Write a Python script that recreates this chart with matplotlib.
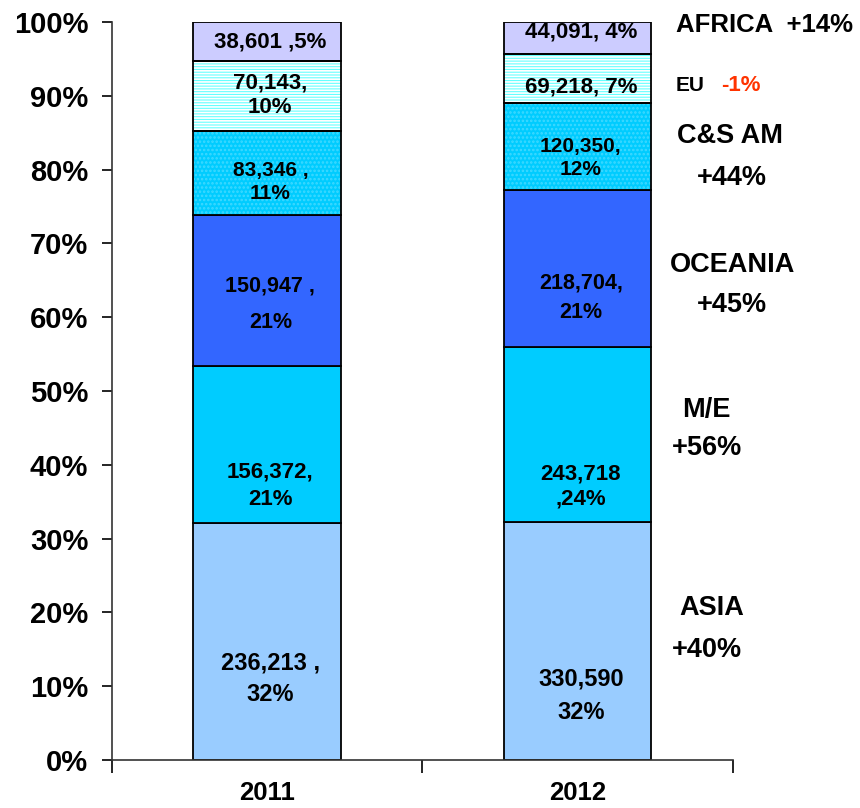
import numpy as np
import matplotlib
matplotlib.use("Agg")
import matplotlib.pyplot as plt

years = ["2011", "2012"]
regions = ["ASIA", "M/E", "OCEANIA", "C&S AM", "EU", "AFRICA"]
vol_2011 = [236213, 156372, 150947, 83346, 70143, 38601]
vol_2012 = [330590, 243718, 218704, 120350, 69218, 44091]
growth = ["+40%", "+56%", "+45%", "+44%", "-1%", "+14%"]

labels_2011 = ["236,213 ,\n32%", "156,372,\n21%", "150,947 ,\n21%",
               "83,346 ,\n11%", "70,143,\n10%", "38,601 ,5%"]
labels_2012 = ["330,590\n32%", "243,718\n,24%", "218,704,\n21%",
               "120,350,\n12%", "69,218, 7%", "44,091, 4%"]

colors = ["#99CCFF", "#00CCFF", "#3366FF", "#00CCFF", "#66FFFF", "#CCCCFF"]
hatches = [None, None, None, "....", "------", None]
hatch_cols = [None, None, None, "#40D9FF", "#FFFFFF", None]

# label y centre (in % of bar) per segment
lab_y = [[11.0, 37.1, 61.8, 78.3, 90.1, 97.3],
         [8.7, 37.0, 62.6, 81.6, 91.2, 98.6]]
lspace = [[1.5, 1.4, 1.95, 1.23, 1.25, 1.0],
          [1.6, 1.25, 1.55, 1.28, 1.0, 1.0]]
sizes = [[17, 16, 15.5, 15, 16, 16],
         [17, 16, 15.5, 15, 16, 16]]

FONT = ["Liberation Sans", "DejaVu Sans"]
plt.rcParams["hatch.linewidth"] = 1.2

fig = plt.figure(figsize=(8.6, 8.08), dpi=100)
ax = fig.add_axes([0.1302, 0.0594, 0.7221, 0.9134])

data = np.array([vol_2011, vol_2012], dtype=float)
pct = data / data.sum(axis=1, keepdims=True) * 100
x = np.arange(len(years))
width = 0.475

bottom = np.zeros(len(years))
for i, reg in enumerate(regions):
    h = pct[:, i]
    if hatches[i]:
        ax.bar(x, h, width, bottom=bottom, color=colors[i], edgecolor=hatch_cols[i],
               hatch=hatches[i], linewidth=0, zorder=2)
        ax.bar(x, h, width, bottom=bottom, fill=False, edgecolor="black",
               linewidth=1.3, zorder=3)
    else:
        ax.bar(x, h, width, bottom=bottom, color=colors[i], edgecolor="black",
               linewidth=1.3, zorder=2)
    bottom += h

for j, labs in enumerate([labels_2011, labels_2012]):
    for i, t in enumerate(labs):
        ax.text(x[j] + 0.01, lab_y[j][i], t, ha="center", va="center",
                fontsize=sizes[j][i], fontweight="bold", family=FONT,
                linespacing=lspace[j][i], zorder=4)

# growth labels on the right
rx = 1.316
fs = 19.5
kw = dict(fontweight="bold", family=FONT, va="center", ha="left", clip_on=False)
ax.text(rx, (760 - 25) / 7.38, "AFRICA  " + growth[5], fontsize=18.5, **kw)
ax.text(rx, (760 - 86) / 7.38, "EU", fontsize=15, **kw)
ax.text(1.462, (760 - 86) / 7.38, growth[4], fontsize=16, color="#FF3300", **kw)
ax.text(1.32, (760 - 136) / 7.38, "C&S AM", fontsize=fs, **kw)
ax.text(1.385, (760 - 178) / 7.38, growth[3], fontsize=fs, **kw)
ax.text(1.297, (760 - 265) / 7.38, "OCEANIA", fontsize=fs, **kw)
ax.text(1.385, (760 - 305) / 7.38, growth[2], fontsize=fs, **kw)
ax.text(1.336, (760 - 410) / 7.38, "M/E", fontsize=fs, **kw)
ax.text(1.304, (760 - 448) / 7.38, growth[1], fontsize=fs, **kw)
ax.text(1.326, (760 - 608) / 7.38, "ASIA", fontsize=fs, **kw)
ax.text(1.304, (760 - 650) / 7.38, growth[0], fontsize=fs, **kw)

ax.set_xlim(-0.5, 1.5)
ax.set_ylim(0, 100)
ax.set_yticks(np.arange(0, 101, 10))
ax.set_yticklabels([f"{v}%" for v in range(0, 101, 10)], fontsize=21,
                   fontweight="bold", family=FONT)
ax.set_xticks([-0.5, 0.5, 1.5])
ax.set_xticklabels([])
ax.set_xticks(x, minor=True)
ax.set_xticklabels(years, minor=True, fontsize=18.5, fontweight="bold", family=FONT)
ax.tick_params(axis="x", which="major", direction="out", length=9, width=1.2)
ax.tick_params(axis="x", which="minor", length=0, pad=15)
ax.tick_params(axis="y", direction="out", length=7, width=1.2, pad=10)

for s in ["top", "right"]:
    ax.spines[s].set_visible(False)
for s in ["left", "bottom"]:
    ax.spines[s].set_linewidth(1.2)
    ax.spines[s].set_color("#333333")

fig.savefig("out.png", dpi=100)
